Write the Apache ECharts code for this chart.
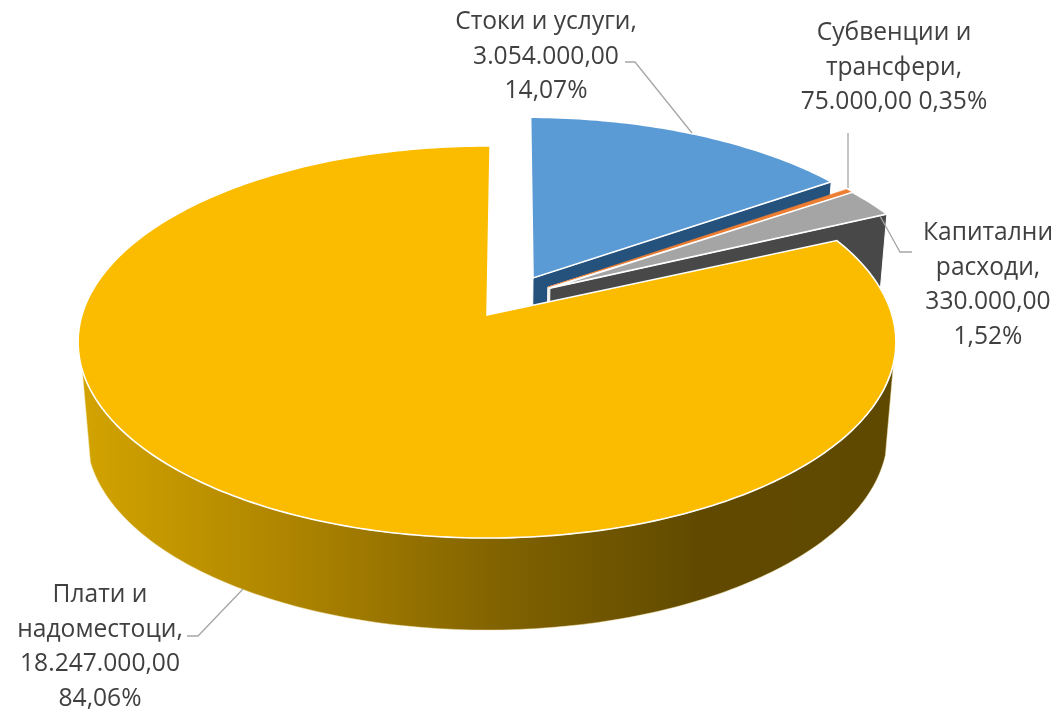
<!DOCTYPE html>
<html>
<head>
<meta charset="utf-8">
<style>html,body{margin:0;padding:0;background:#fff}#c{width:1059px;height:712px}</style>
<script src="https://cdn.jsdelivr.net/npm/echarts@6/dist/echarts.min.js"></script>
</head>
<body>
<div id="c"></div>
<script>
// ---- data ----
const categories = ['Стоки и услуги,', 'Субвенции и\nтрансфери,', 'Капитални\nрасходи,', 'Плати и\nнадоместоци,'];
const values = [3054000, 75000, 330000, 18247000];
const valueSeparators = ['\n', '\n', '\n', '\n'];
const percentSeparators = ['\n', ' ', '\n', '\n'];

// ---- style ----
const topColors = ['#5B9BD5', '#ED7D31', '#A5A5A5', '#FBBC00'];
const wallColors = ['#25527C', '#FBEDE3', '#484848', null];
const strokeColors = ['#FFFFFF', 'rgba(237,125,49,0.55)', '#FFFFFF', '#FFFFFF'];
const strokeWidths = [1.6, 1, 1.6, 1.6];
const textColor = '#404040';
const leaderColor = '#A6A6A6';

// ---- layout ----
const explodeSize = [0.23, 0.213, 0.213, 0];
const explodeDir = [30.5, 46, 48, 0];
const startNudge = [0, -0.6, -1.4, 0.5];
const endNudge = [-0.5, -1, -0.4, 0];
const labelAt = [[546, 22], [894, 33], [988, 233], [100, 595]];
const leaders = [
  [[625, 62], [635, 62], [692, 133]],
  [[848, 133], [848, 188]],
  [[880, 216], [900, 252], [912, 252]],
  [[187, 636], [198, 636], [243, 589]]
];
const P = {cx: 487, a: 315, b: -148.9, c: 0.1378, R: 405, depth: 92, shrink: 0.98};
const START = 0.5, SKEW = 35.3;

const total = values.reduce((s, v) => s + v, 0);
const rad = d => d * Math.PI / 180;

function project(u, v) {
  const w = 1 + P.c * v;
  return [P.cx + P.R * u / w, (P.a + P.b * v) / w];
}
function rimAngle(fraction) {
  const t = fraction * 360;
  const k = 1 - Math.cos(rad(t));
  return START + t + SKEW * k * k;
}
function lower(p) {
  return [P.cx + (p[0] - P.cx) * P.shrink, p[1] + P.depth];
}
function money(v) {
  return String(v).replace(/\B(?=(\d{3})+$)/g, '.') + ',00';
}
function pct(v) {
  return (v / total * 100).toFixed(2).replace('.', ',') + '%';
}

function renderItem(params, api) {
  const i = params.dataIndex;
  const before = values.slice(0, i).reduce((s, v) => s + v, 0);
  const val = api.value(0);
  const th0 = rimAngle(before / total) + startNudge[i];
  const th1 = i === values.length - 1 ? 360 + START : rimAngle((before + val) / total) + endNudge[i];
  const ox = explodeSize[i] * Math.sin(rad(explodeDir[i]));
  const oy = explodeSize[i] * Math.cos(rad(explodeDir[i]));
  const apex = project(ox, oy);
  const at = th => project(ox + Math.sin(rad(th)), oy + Math.cos(rad(th)));

  const rim = [];
  const n = Math.max(2, Math.ceil(th1 - th0));
  for (let k = 0; k <= n; k++) rim.push(at(th0 + (th1 - th0) * k / n));

  const children = [];
  if (wallColors[i]) {
    const end = rim[rim.length - 1];
    children.push({
      type: 'polygon',
      shape: {points: [apex, end, lower(end), lower(apex)]},
      style: {fill: wallColors[i], stroke: '#fff', lineWidth: 1}
    });
  } else {
    const up = [];
    for (let th = 104; th <= 254.6; th += 1) up.push(at(th));
    children.push({
      type: 'polygon',
      shape: {points: up.concat(up.slice().reverse().map(lower))},
      style: {
        fill: new echarts.graphic.LinearGradient(78, 0, 896, 0, [
          {offset: 0, color: '#D3A400'},
          {offset: 0.27, color: '#AC8300'},
          {offset: 0.52, color: '#806200'},
          {offset: 0.76, color: '#614A00'},
          {offset: 1, color: '#5F4900'}
        ], true),
        stroke: '#F3E3B0', lineWidth: 0.5
      }
    });
  }
  children.push({
    type: 'polygon',
    shape: {points: [apex].concat(rim)},
    style: {fill: topColors[i], stroke: strokeColors[i], lineWidth: strokeWidths[i], lineJoin: 'miter'}
  });
  return {type: 'group', children};
}

function renderLabels(params) {
  const i = params.dataIndex;
  const text = categories[i] + valueSeparators[i] + money(values[i]) + percentSeparators[i] + pct(values[i]);
  return {
    type: 'group',
    children: [
      {
        type: 'polyline',
        shape: {points: leaders[i]},
        style: {fill: 'none', stroke: leaderColor, lineWidth: 1.3}
      },
      {
        type: 'text',
        style: {
          text,
          x: labelAt[i][0],
          y: labelAt[i][1] - 17,
          align: 'center',
          verticalAlign: 'top',
          fill: textColor,
          font: '24.6px "Open Sans", "Noto Sans", sans-serif',
          lineHeight: 34.5
        }
      }
    ]
  };
}

const chart = echarts.init(document.getElementById('c'), null, {renderer: 'canvas'});
chart.setOption({
  animation: false,
  backgroundColor: '#fff',
  series: [
    {type: 'custom', coordinateSystem: 'none', renderItem, data: values.map(v => [v]), z: 2, silent: true},
    {type: 'custom', coordinateSystem: 'none', renderItem: renderLabels, data: values.map(v => [v]), z: 3, silent: true}
  ]
});
</script>
</body>
</html>
